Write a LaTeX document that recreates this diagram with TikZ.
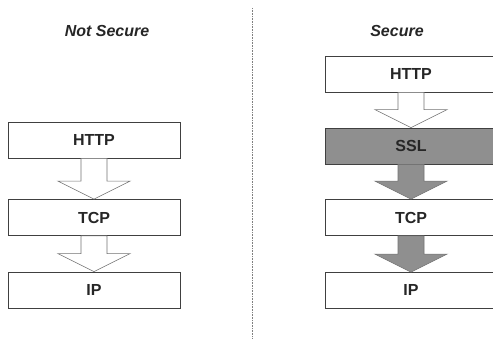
\documentclass[tikz,border=0pt]{standalone}
\usepackage{fontspec}
\setmainfont{Liberation Sans}
\usetikzlibrary{calc}
\begin{document}
\begin{tikzpicture}[x=1pt,y=1pt,
  layer/.style={draw=black!75, line width=0.8pt, fill=white, minimum width=172pt, minimum height=36pt, inner sep=0pt, font=\fontsize{16}{18}\selectfont\bfseries\color{black!85}},
  seclayer/.style={layer, fill=black!44},
  title/.style={font=\fontsize{16}{18}\selectfont\itshape\bfseries\color{black!85}},
  arrowline/.style={draw=black!55, line width=0.6pt}
]
\newcommand\blockarrow[3]{%
  \path let \p1=(#2.south), \p2=(#3.north) in
    [arrowline, fill=#1] (\x1-13,\y1) -- (\x1-13,\y2+18) -- (\x1-36,\y2+18) -- (\x1,\y2) -- (\x1+36,\y2+18) -- (\x1+13,\y2+18) -- (\x1+13,\y1) -- cycle;}
\useasboundingbox (0,0) rectangle (493,339);
\fill[white] (0,0) rectangle (493,339);
\begin{scope}
\clip (0,0) rectangle (493,339);
% titles
\node[title] (t1) at (107,308) {Not Secure};
\node[title] (t2) at (397,308) {Secure};
% separator
\coordinate (s1) at (252,331);
\coordinate (s2) at (252,0);
\draw[black!50, densely dotted, line width=0.6pt] (s1) -- (s2);
% left stack
\node[layer] (lhttp) at (94,199) {HTTP};
\node[layer] (ltcp) at (94,121.5) {TCP};
\node[layer] (lip) at (94,49) {IP};
% right stack
\node[layer] (rhttp) at (411,265) {HTTP};
\node[seclayer] (rssl) at (411,193) {SSL};
\node[layer] (rtcp) at (411,121.5) {TCP};
\node[layer] (rip) at (411,48.5) {IP};
% arrows
\blockarrow{white}{lhttp}{ltcp}
\blockarrow{white}{ltcp}{lip}
\blockarrow{white}{rhttp}{rssl}
\blockarrow{black!44}{rssl}{rtcp}
\blockarrow{black!44}{rtcp}{rip}
\end{scope}
\end{tikzpicture}
\end{document}
